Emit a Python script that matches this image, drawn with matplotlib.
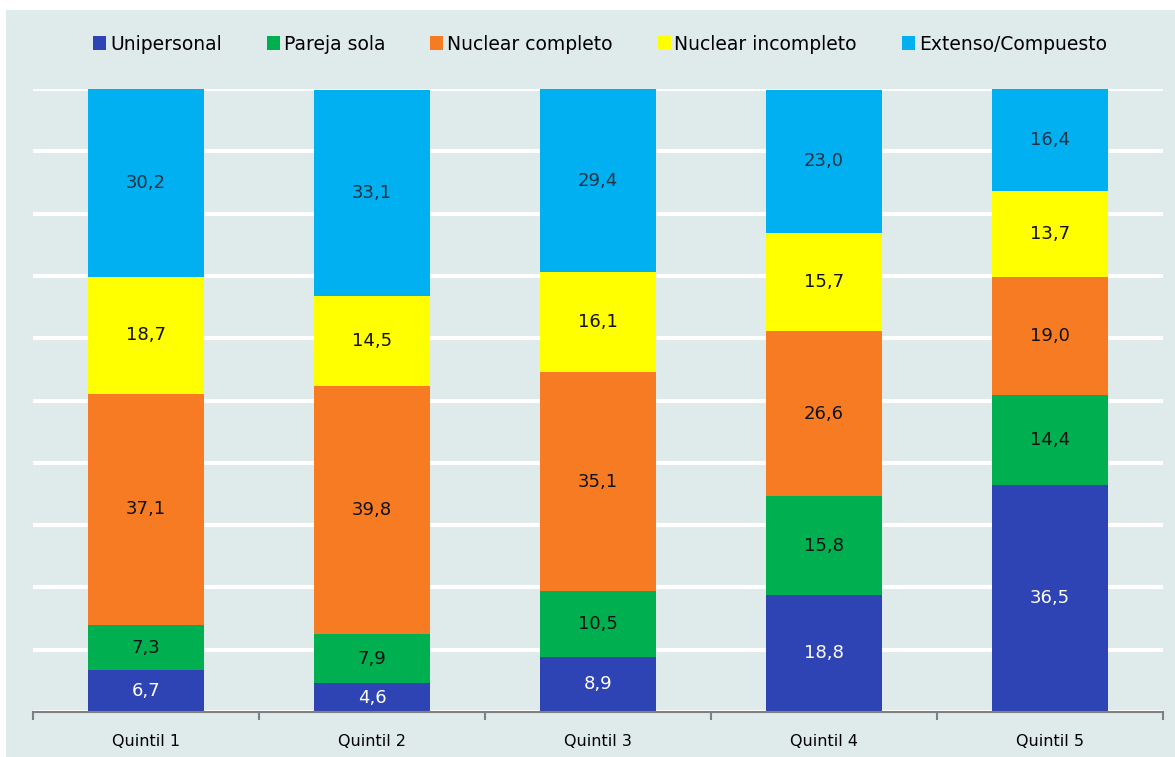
import numpy as np
import matplotlib.pyplot as plt
from matplotlib.patches import Rectangle

# Hogares por tipo según quintil de ingreso (%)
quintiles = ["Quintil 1", "Quintil 2", "Quintil 3", "Quintil 4", "Quintil 5"]
tipos = ["Unipersonal", "Pareja sola", "Nuclear completo", "Nuclear incompleto", "Extenso/Compuesto"]

unipersonal = [6.7, 4.6, 8.9, 18.8, 36.5]
pareja_sola = [7.3, 7.9, 10.5, 15.8, 14.4]
nuclear_completo = [37.1, 39.8, 35.1, 26.6, 19.0]
nuclear_incompleto = [18.7, 14.5, 16.1, 15.7, 13.7]
extenso_compuesto = [30.2, 33.1, 29.4, 23.0, 16.4]

series = [unipersonal, pareja_sola, nuclear_completo, nuclear_incompleto, extenso_compuesto]
colores = ["#2E44B4", "#00B050", "#F67B22", "#FFFF00", "#00B0F0"]
color_texto = ["white", "#111111", "#111111", "#111111", "#1F3445"]

fondo = "#DFEAEA"

fig = plt.figure(figsize=(11.75, 7.57), dpi=100, facecolor="white")
fig.patches.append(Rectangle((6 / 1175, 0), 1 - 6 / 1175, 1 - 10 / 757,
                             transform=fig.transFigure, facecolor=fondo,
                             edgecolor="none", zorder=-10))

ax = fig.add_axes([33 / 1175, 45 / 757, 1130 / 1175, 623 / 757])
ax.set_facecolor(fondo)

x = np.arange(len(quintiles))
base = np.zeros(len(quintiles))
for nombre, valores, color, tc in zip(tipos, series, colores, color_texto):
    valores = np.array(valores)
    ax.bar(x, valores, bottom=base, width=0.513, color=color, label=nombre,
           zorder=3, linewidth=0)
    for xi, b, v in zip(x, base, valores):
        ax.text(xi, b + v / 2, f"{v:.1f}".replace(".", ","), ha="center",
                va="center", fontsize=13, color=tc, zorder=4)
    base += valores

ax.set_xlim(-0.5, len(quintiles) - 0.5)
ax.set_ylim(0, 100)
ax.set_yticks(np.arange(0, 101, 10))
ax.yaxis.grid(True, color="white", linewidth=3, zorder=1)
ax.tick_params(axis="y", left=False, labelleft=False)

ax.set_xticks(x)
ax.set_xticklabels(quintiles, fontsize=11.5)
ax.tick_params(axis="x", length=0, pad=16)
ax.set_xticks(np.arange(-0.5, len(quintiles)), minor=True)
ax.tick_params(axis="x", which="minor", length=6, color="#808080", width=1.5)

for lado in ["top", "right", "left"]:
    ax.spines[lado].set_visible(False)
ax.spines["bottom"].set_color("#808080")
ax.spines["bottom"].set_linewidth(1.5)
ax.spines["bottom"].set_zorder(5)

fig.legend(loc="center", bbox_to_anchor=(600 / 1175, 1 - 44 / 757), ncol=5,
           frameon=False, fontsize=13.5, handlelength=0.7, handleheight=0.7,
           handletextpad=0.2, columnspacing=2.4)

fig.savefig("out.png", dpi=100, facecolor="white")
